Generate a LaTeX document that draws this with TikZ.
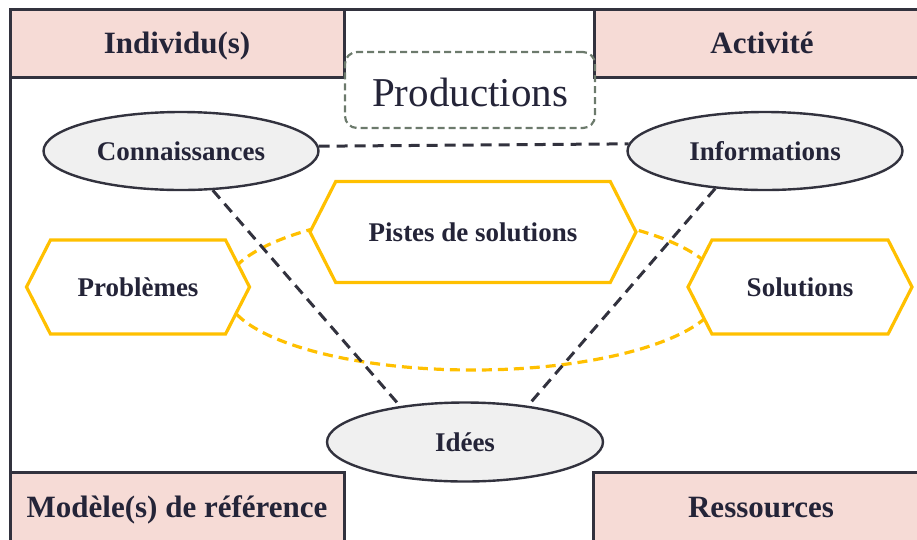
\documentclass[tikz,border=0pt]{standalone}
\usepackage{fontspec}
\setmainfont{Liberation Serif}
\usetikzlibrary{shapes.geometric,shapes.symbols}

\definecolor{framegray}{RGB}{50,50,62}
\definecolor{labelink}{RGB}{36,36,56}
\definecolor{boxpink}{RGB}{246,219,214}
\definecolor{hexyellow}{RGB}{255,192,0}
\definecolor{prodgray}{RGB}{108,122,108}
\definecolor{ovalfill}{RGB}{240,240,240}

\tikzset{
  cornerbox/.style={draw=framegray, line width=3pt, fill=boxpink, text=labelink,
    font=\fontsize{31}{33}\selectfont\bfseries, inner sep=0pt, text depth=0pt},
  prodbox/.style={draw=prodgray, line width=2.2pt, rounded corners=12pt,
    dash pattern=on 7pt off 4pt, text=labelink, text height=34pt,
    font=\fontsize{41}{44}\selectfont, inner sep=0pt},
  oval/.style={ellipse, draw=framegray, line width=2.4pt, fill=ovalfill, text=labelink,
    font=\fontsize{27}{29}\selectfont\bfseries, inner sep=0pt},
  hexbox/.style={signal, signal to=west and east, signal pointer angle=126,
    draw=hexyellow, line width=3.2pt, fill=white, text=labelink,
    font=\fontsize{27}{29}\selectfont\bfseries, inner sep=0pt},
  darklink/.style={draw=framegray, line width=3pt, dash pattern=on 11pt off 7pt},
  yellowlink/.style={draw=hexyellow, line width=3.2pt, dash pattern=on 10pt off 6pt}
}

\begin{document}
\begin{tikzpicture}[x=1pt, y=-1pt]
  \useasboundingbox (0,0) rectangle (917,539);
  \clip (0,0) rectangle (917,539);

  % Drawing frame
  \draw [framegray, line width=3pt] (10,9) rectangle (930,550);

  % Marking corner boxes
  \node [cornerbox, minimum width=334pt, minimum height=68pt] (individu) at (177,43) {Individu(s)};
  \node [cornerbox, minimum width=336pt, minimum height=68pt] (activite) at (762,43) {Activité};
  \node [cornerbox, minimum width=334pt, minimum height=70pt] (modele) at (177,507) {Modèle(s) de référence};
  \node [cornerbox, minimum width=336pt, minimum height=70pt] (ressources) at (761,507) {Ressources};

  % Marking box Productions
  \node [prodbox, minimum width=250pt, minimum height=76pt] (productions) at (470,90) {Productions};

  % Drawing ellipse behind the hexagons
  \draw [yellowlink] (473,290) ellipse [x radius=248, y radius=80];

  % Marking hexagons
  \node [hexbox, minimum width=223pt, minimum height=94pt] (problemes) at (138,287) {Problèmes};
  \node [hexbox, minimum width=326pt, minimum height=101pt] (pistes) at (473,232) {Pistes de solutions};
  \node [hexbox, minimum width=224pt, minimum height=94pt] (solutions) at (800,287) {Solutions};

  % Marking ellipses
  \node [oval, minimum width=275pt, minimum height=78pt] (connaissances) at (181,151) {Connaissances};
  \node [oval, minimum width=275pt, minimum height=78pt] (informations) at (765,151) {Informations};
  \node [oval, minimum width=276pt, minimum height=79pt] (idees) at (465,442) {Idées};

  % Drawing links
  \draw [darklink] (connaissances.2.5) -- (informations.177.5);
  \draw [darklink] (connaissances.-51) -- (idees.151);
  \draw [darklink] (informations.-143) -- (idees.30);
\end{tikzpicture}
\end{document}
